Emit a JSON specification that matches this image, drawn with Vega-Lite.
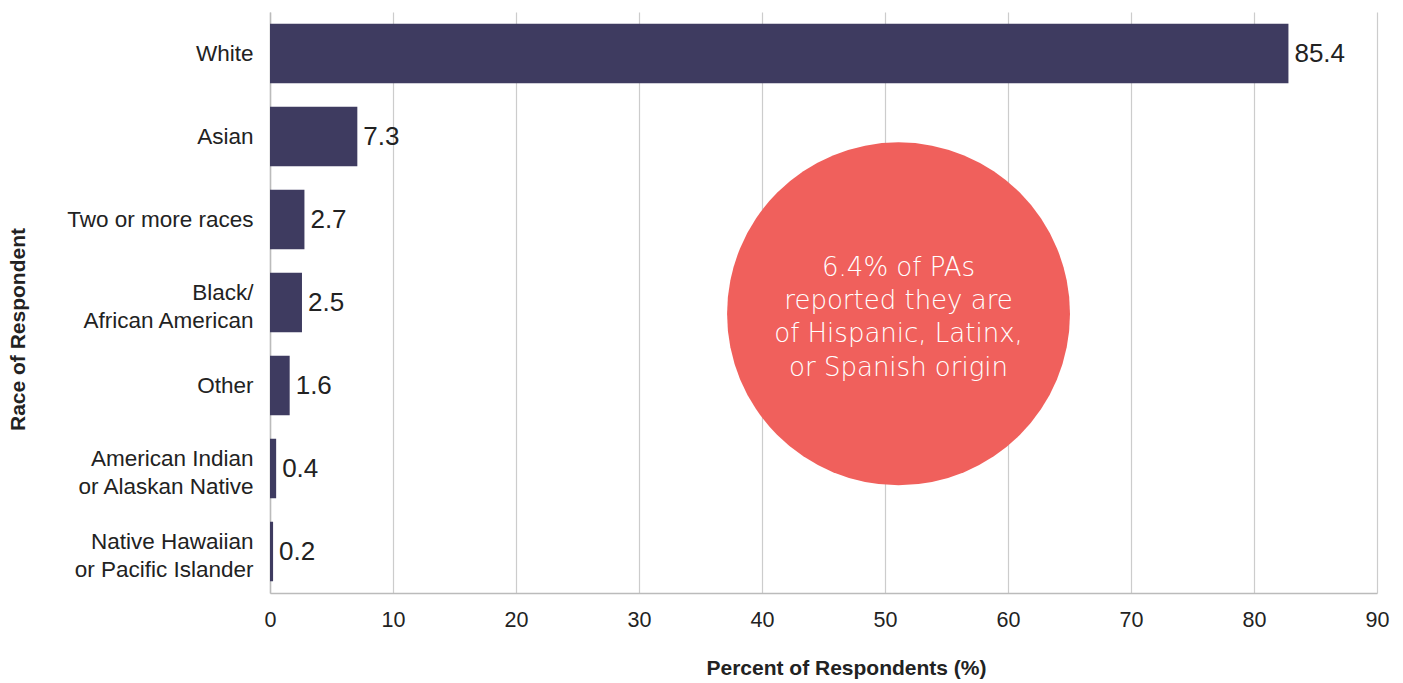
{
  "$schema": "https://vega.github.io/schema/vega-lite/v6.json",
  "width": 1107,
  "height": 581,
  "autosize": "none",
  "padding": {"left": 270, "top": 12, "right": 26, "bottom": 90},
  "background": "white",
  "config": {
    "view": {"stroke": null},
    "font": "Liberation Sans"
  },
  "datasets": {
    "races": [
      {"race": "White", "bar": 82.8, "label": "85.4"},
      {"race": "Asian", "bar": 7.1, "label": "7.3"},
      {"race": "Two or more races", "bar": 2.8, "label": "2.7"},
      {"race": "Black/|African American", "bar": 2.6, "label": "2.5"},
      {"race": "Other", "bar": 1.6, "label": "1.6"},
      {"race": "American Indian|or Alaskan Native", "bar": 0.5, "label": "0.4"},
      {"race": "Native Hawaiian|or Pacific Islander", "bar": 0.25, "label": "0.2"}
    ],
    "note": [
      {"race": "Black/|African American", "x": 51.1, "text": "6.4% of PAs\nreported they are\nof Hispanic, Latinx,\nor Spanish origin"}
    ]
  },
  "layer": [
    {
      "data": {"name": "races"},
      "mark": {"type": "bar", "color": "#3e3b60"},
      "encoding": {
        "y": {
          "field": "race",
          "type": "nominal",
          "sort": null,
          "scale": {
            "domain": ["White", "Asian", "Two or more races", "Black/|African American", "Other", "American Indian|or Alaskan Native", "Native Hawaiian|or Pacific Islander"],
            "paddingInner": 0.283,
            "paddingOuter": 0.1415
          },
          "axis": {
            "title": "Race of Respondent",
            "titleFont": "Liberation Sans",
            "titleFontSize": 21,
            "titleFontWeight": "bold",
            "titleColor": "#222222",
            "titleX": -252,
            "titleY": 317,
            "titleAngle": -90,
            "titleAlign": "center",
            "titleBaseline": "middle",
            "labelExpr": "split(datum.value, '|')",
            "labelFontSize": 22.5,
            "labelColor": "#222222",
            "labelLineHeight": 28,
            "labelPadding": 17,
            "labelLimit": 300,
            "labelOffset": {"condition": {"test": "indexof(datum.value, '|') >= 0", "value": -10}, "value": 0},
            "ticks": false,
            "domain": true,
            "domainColor": "#bbbbbb",
            "domainWidth": 1.5,
            "grid": false
          }
        },
        "x": {
          "field": "bar",
          "type": "quantitative",
          "scale": {"domain": [0, 90], "nice": false},
          "axis": {
            "title": "Percent of Respondents (%)",
            "titleFontSize": 21,
            "titleFontWeight": "bold",
            "titleColor": "#222222",
            "titleX": 576,
            "titleY": 75,
            "titleAlign": "center",
            "titleBaseline": "middle",
            "values": [0, 10, 20, 30, 40, 50, 60, 70, 80, 90],
            "labelFontSize": 21.5,
            "labelColor": "#222222",
            "labelPadding": 16,
            "labelFlush": false,
            "ticks": false,
            "grid": true,
            "gridColor": "#cccccc",
            "gridWidth": 1.2,
            "domainColor": "#bbbbbb",
            "domainWidth": 1.5
          }
        }
      }
    },
    {
      "data": {"name": "races"},
      "mark": {"type": "text", "align": "left", "baseline": "middle", "dx": 6, "fontSize": 26, "color": "#222222"},
      "encoding": {
        "y": {"field": "race", "type": "nominal", "sort": null},
        "x": {"field": "bar", "type": "quantitative"},
        "text": {"field": "label"}
      }
    },
    {
      "data": {"name": "note"},
      "mark": {"type": "point", "shape": "circle", "filled": true, "opacity": 1, "color": "#f0605c", "size": 117600, "strokeWidth": 0},
      "encoding": {
        "y": {"field": "race", "type": "nominal", "sort": null, "bandPosition": 0.69},
        "x": {"field": "x", "type": "quantitative"}
      }
    },
    {
      "data": {"name": "note"},
      "mark": {"type": "text", "align": "center", "baseline": "middle", "lineBreak": "\n", "lineHeight": 33.3, "dy": -49, "font": "DejaVu Sans", "fontWeight": 200, "fontSize": 26, "color": "white"},
      "encoding": {
        "y": {"field": "race", "type": "nominal", "sort": null, "bandPosition": 0.74},
        "x": {"field": "x", "type": "quantitative"},
        "text": {"field": "text"}
      }
    }
  ]
}
